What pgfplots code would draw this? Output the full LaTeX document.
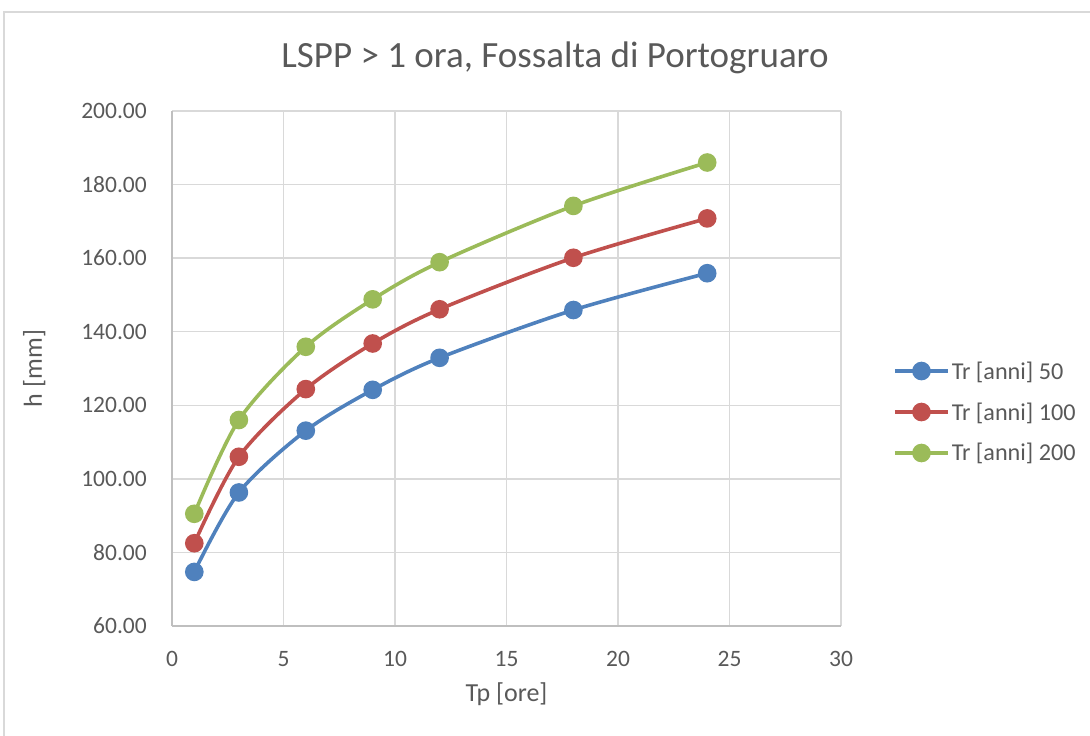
\documentclass[border=0pt]{standalone}
\usepackage{fontspec}
\setmainfont{Carlito}
\usepackage{pgfplots}
\pgfplotsset{compat=1.18}

\definecolor{serieblu}{HTML}{4F81BD}
\definecolor{serierossa}{HTML}{C0504D}
\definecolor{serieverde}{HTML}{9BBB59}
\definecolor{griglia}{HTML}{D9D9D9}
\definecolor{assi}{HTML}{BFBFBF}
\definecolor{testo}{HTML}{595959}

\begin{document}
\begin{tikzpicture}
\path[use as bounding box] (0pt,0pt) rectangle (1090pt,736pt);
\draw[griglia, line width=1.3pt] (4pt,0pt) -- (4pt,724pt) -- (1090pt,724pt);

\node[text=testo, font=\fontsize{37}{42}\selectfont] at (555pt,678pt) {LSPP > 1 ora, Fossalta di Portogruaro};

\begin{axis}[
  at={(172pt,110pt)}, anchor=south west,
  width=669pt, height=515pt, scale only axis,
  xmin=0, xmax=30, ymin=60, ymax=200,
  xtick={0,5,...,30}, ytick={60,80,...,200},
  axis x line*=bottom, axis y line*=left,
  axis line style={assi, line width=1.4pt},
  major tick length=0pt,
  grid=major,
  major grid style={griglia, line width=1.4pt},
  tick label style={text=testo, font=\fontsize{23.5}{28}\selectfont},
  /pgf/number format/assume math mode=true,
  yticklabel style={/pgf/number format/fixed, /pgf/number format/fixed zerofill, /pgf/number format/precision=2},
  yticklabel style={inner sep=0pt, anchor=east, xshift=-25pt},
  xticklabel style={inner sep=0pt, anchor=north, yshift=-25pt},
  xlabel={Tp [ore]}, ylabel={h [mm]},
  label style={text=testo, font=\fontsize{26}{30}\selectfont},
  xlabel style={at={(axis description cs:0.5,-0.133)}, anchor=center},
  ylabel style={at={(axis description cs:-0.206,0.5)}, anchor=center},
  legend cell align=left,
  legend style={at={(axis description cs:1.0777,0.4155)}, anchor=west,
    draw=none, fill=none, inner sep=0pt, row sep=18pt,
    nodes={inner sep=2pt, text=testo},
    font=\fontsize{24.2}{28}\selectfont},
  legend image code/.code={\draw[mark repeat=2, mark phase=2, #1] plot coordinates {(0pt,0pt) (26.5pt,0pt) (53pt,0pt)};},
  every axis plot/.append style={line width=3.6pt, smooth, tension=0.5, mark=*, mark size=7.5pt, mark options={solid}},
]
\addplot[serieblu] coordinates {(1,74.7) (3,96.3) (6,113.1) (9,124.2) (12,132.9) (18,145.9) (24,155.9)};
\addlegendentry{Tr [anni] 50}
\addplot[serierossa] coordinates {(1,82.5) (3,106.0) (6,124.4) (9,136.8) (12,146.1) (18,160.1) (24,170.8)};
\addlegendentry{Tr [anni] 100}
\addplot[serieverde] coordinates {(1,90.5) (3,116.0) (6,135.9) (9,148.8) (12,158.9) (18,174.2) (24,186.0)};
\addlegendentry{Tr [anni] 200}
\end{axis}
\end{tikzpicture}
\end{document}
